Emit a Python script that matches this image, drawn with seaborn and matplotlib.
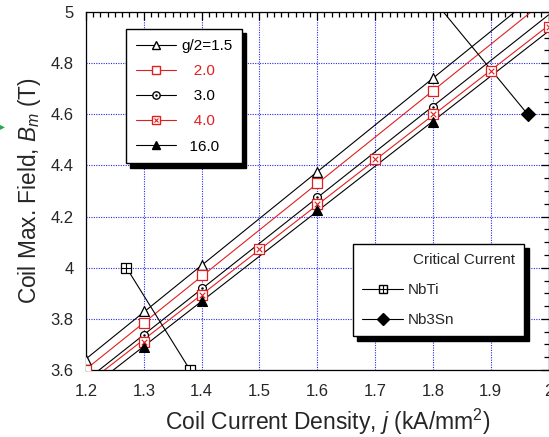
import numpy as np
import pandas as pd
import matplotlib
matplotlib.use("Agg")
import matplotlib.pyplot as plt
import seaborn as sns
from matplotlib.lines import Line2D
from matplotlib.legend_handler import HandlerTuple
from matplotlib.ticker import MultipleLocator

# ---------------- data ----------------
j_15 = [1.2, 1.3, 1.4, 1.6, 1.8]
b_15 = [3.64, 3.83, 4.01, 4.375, 4.74]
j_20 = [1.2, 1.3, 1.4, 1.6, 1.8]
b_20 = [3.60, 3.785, 3.97, 4.33, 4.69]
j_30 = [1.3, 1.4, 1.6, 1.8]
b_30 = [3.735, 3.92, 4.275, 4.63]
j_40 = [1.3, 1.4, 1.5, 1.6, 1.7, 1.8, 1.9, 2.0]
b_40 = [3.71, 3.895, 4.075, 4.25, 4.425, 4.60, 4.77, 4.94]
j_160 = [1.3, 1.4, 1.6, 1.8]
b_160 = [3.69, 3.87, 4.225, 4.57]

nbti_j = [1.27, 1.38]
nbti_b = [4.0, 3.6]
nb3sn_j = [1.80, 1.964]
nb3sn_b = [5.05, 4.60]

series_labels = ["g/2=1.5", "   2.0", "   3.0", "   4.0", "  16.0"]
crit_labels = ["NbTi", "Nb3Sn"]
crit_title = "Critical Current"
x_ticks = [1.2, 1.3, 1.4, 1.5, 1.6, 1.7, 1.8, 1.9, 2.0]
y_ticks = [3.6, 3.8, 4.0, 4.2, 4.4, 4.6, 4.8, 5.0]
x_tick_labels = ["1.2", "1.3", "1.4", "1.5", "1.6", "1.7", "1.8", "1.9", "2"]
y_tick_labels = ["3.6", "3.8", "4", "4.2", "4.4", "4.6", "4.8", "5"]

# ---------------- style ----------------
sns.set_style("white")
plt.rcParams["font.family"] = ["Liberation Sans", "DejaVu Sans"]
plt.rcParams["mathtext.fontset"] = "custom"
plt.rcParams["mathtext.rm"] = "Liberation Sans"
plt.rcParams["mathtext.it"] = "Liberation Sans:italic"
plt.rcParams["mathtext.bf"] = "Liberation Sans:bold"

RED = "#e02020"
BLK = "#000000"
LW = 0.8

fig = plt.figure(figsize=(5.49, 4.37), dpi=100)
ax = fig.add_axes([86 / 549, 67 / 437, 462.5 / 549, 358 / 437])
ax.set_xlim(1.2, 2.0)
ax.set_ylim(3.6, 5.0)

# fitted lines across the whole axis (seaborn regression, untruncated)
line_specs = [
    (j_15, b_15, BLK), (j_20, b_20, RED), (j_30, b_30, BLK),
    (j_40, b_40, RED), (j_160, b_160, BLK),
]
for xs, ys, c in line_specs:
    sns.regplot(x=np.array(xs), y=np.array(ys), ax=ax, ci=None, truncate=False,
                scatter=False, color=c, line_kws=dict(lw=LW, zorder=2))

def mk(xs, ys, marker, s, fc, ec, lw=0.9, z=4):
    sns.scatterplot(x=xs, y=ys, ax=ax, marker=marker, s=s, facecolor=fc,
                    edgecolor=ec, linewidth=lw, zorder=z, clip_on=True, legend=False)

mk(j_15, b_15, "^", 50, "white", BLK)
mk(j_20, b_20, "s", 60, "white", RED)
mk(j_30, b_30, "o", 32, "white", BLK)
mk(j_30, b_30, ".", 3, BLK, BLK)
mk(j_40, b_40, "s", 50, "white", RED)
sns.scatterplot(x=j_40, y=b_40, ax=ax, marker="x", s=16, color=RED, linewidth=0.8,
                zorder=5, legend=False)
mk(j_160, b_160, "^", 50, BLK, BLK)

# critical current curves
sns.lineplot(x=nbti_j, y=nbti_b, ax=ax, color=BLK, lw=LW, sort=False, zorder=3)
mk(nbti_j, nbti_b, "s", 50, "white", BLK)
sns.scatterplot(x=nbti_j, y=nbti_b, ax=ax, marker="+", s=44, color=BLK, linewidth=0.8,
                zorder=5, legend=False)
sns.lineplot(x=nb3sn_j, y=nb3sn_b, ax=ax, color=BLK, lw=LW, sort=False, zorder=3)
mk(nb3sn_j, nb3sn_b, "D", 50, BLK, BLK)

ax.set_xlim(1.2, 2.0)
ax.set_ylim(3.6, 5.0)

# ticks / grid
ax.set_xticks(x_ticks)
ax.set_xticklabels(x_tick_labels)
ax.set_yticks(y_ticks)
ax.set_yticklabels(y_tick_labels)
ax.xaxis.set_minor_locator(MultipleLocator(0.0125))
ax.yaxis.set_minor_locator(MultipleLocator(0.05))
ax.tick_params(which="both", direction="in", top=True, right=True,
               labeltop=False, labelright=False, color="black", width=0.9)
ax.tick_params(which="major", length=6, labelsize=12)
ax.tick_params(axis="x", which="major", pad=10)
ax.tick_params(axis="y", which="major", pad=9)
ax.tick_params(which="minor", length=3.5)
for sp in ax.spines.values():
    sp.set_visible(True)
    sp.set_color("black")
    sp.set_linewidth(0.9)
ax.grid(which="major", color="#2a2aee", linestyle=(0, (1, 1.2)), linewidth=0.8)
ax.set_axisbelow(True)

ax.set_xlabel("Coil Current Density, $j$ (kA/mm$^2$)", fontsize=16.5, labelpad=6)
ax.xaxis.label.set_x(0.522)
ax.set_ylabel("Coil Max. Field, $B_m$ (T)", fontsize=16.3, labelpad=5)

# legend 1
MS = 6.3
h15 = Line2D([], [], color=BLK, lw=LW, marker="^", mfc="white", mec=BLK, ms=MS)
h20 = Line2D([], [], color=RED, lw=LW, marker="s", mfc="white", mec=RED, ms=MS)
h30 = (Line2D([], [], color=BLK, lw=LW, marker="o", mfc="white", mec=BLK, ms=5.3),
       Line2D([], [], ls="none", marker=".", color=BLK, ms=1.5))
h40 = (Line2D([], [], color=RED, lw=LW, marker="s", mfc="white", mec=RED, ms=MS),
       Line2D([], [], ls="none", marker="x", color=RED, ms=3.5, mew=0.8))
h160 = Line2D([], [], color=BLK, lw=LW, marker="^", mfc=BLK, mec=BLK, ms=MS)

shadow = dict(ox=3, oy=-3, facecolor="black", edgecolor="black", alpha=1)
leg1 = ax.legend([h15, h20, h30, h40, h160], series_labels, loc="upper left",
                 bbox_to_anchor=(126 / 549, 1 - 29 / 437), bbox_transform=fig.transFigure,
                 frameon=True, fancybox=False, edgecolor="black", framealpha=1,
                 shadow=shadow, handlelength=2.6, handletextpad=0.35, labelspacing=0.73,
                 fontsize=11, borderpad=0.65, borderaxespad=0,
                 handler_map={tuple: HandlerTuple(ndivide=1)})
leg1.get_frame().set_linewidth(1.0)
for t, c in zip(leg1.get_texts(), [BLK, RED, BLK, RED, BLK]):
    t.set_color(c)
ax.add_artist(leg1)

# legend 2
hn = (Line2D([], [], color=BLK, lw=LW, marker="s", mfc="white", mec=BLK, ms=MS),
      Line2D([], [], ls="none", marker="+", color=BLK, ms=6, mew=0.8))
hs = Line2D([], [], color=BLK, lw=LW, marker="D", mfc=BLK, mec=BLK, ms=MS)
leg2 = ax.legend([hn, hs], crit_labels, loc="upper left",
                 title=" " * 12 + crit_title, title_fontsize=11, alignment="left",
                 bbox_to_anchor=(353 / 549, 1 - 244 / 437), bbox_transform=fig.transFigure,
                 frameon=True, fancybox=False, edgecolor="black", framealpha=1,
                 shadow=shadow, handlelength=2.7, handletextpad=0.3, labelspacing=1.05,
                 fontsize=11, borderpad=0.6, borderaxespad=0,
                 handler_map={tuple: HandlerTuple(ndivide=1)})
leg2.get_frame().set_linewidth(1.0)

# small green arrowhead at the left edge
fig.text(0.0, 1 - 126 / 437, "\u25b8", color="#1faa4a", fontsize=7,
         ha="left", va="center", family="DejaVu Sans")

fig.savefig("out.png", dpi=100)
